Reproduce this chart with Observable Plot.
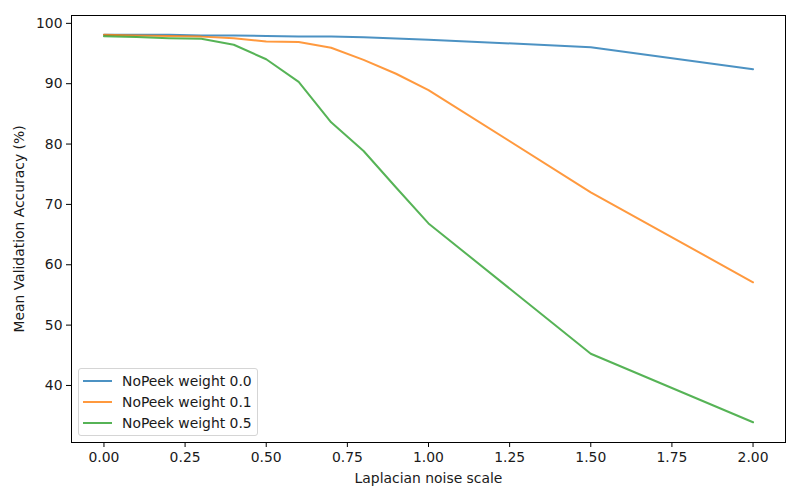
<!DOCTYPE html>
<html>
<head>
<meta charset="utf-8">
<script src="https://cdn.jsdelivr.net/npm/d3@7"></script>
<script src="https://cdn.jsdelivr.net/npm/@observablehq/plot@0.6"></script>
<style>
  body { margin: 0; background: #fff; }
  #wrap { position: relative; width: 800px; height: 500px; font-family: "DejaVu Sans", sans-serif; }
  #legend { position: absolute; left: 78px; top: 368px; width: 180px; height: 68px;
    border: 1px solid #d5d5d5; border-radius: 3px; background: rgba(255,255,255,0.8);
    font-size: 13.9px; color: #1a1a1a; box-sizing: border-box; padding-top: 1px; }
  .row { display: flex; align-items: center; height: 21px; }
  .sw { width: 29px; height: 2px; margin-left: 4px; margin-right: 10px; }
</style>
</head>
<body>
<div id="wrap"><div id="chart"></div><div id="legend"></div></div>
<script>
const noiseScale = [0.0, 0.1, 0.2, 0.3, 0.4, 0.5, 0.6, 0.7, 0.8, 0.9, 1.0, 1.5, 2.0];
const weight00 = [98.1, 98.1, 98.1, 98.0, 98.0, 97.9, 97.8, 97.8, 97.7, 97.5, 97.3, 96.05, 92.4];
const weight01 = [98.1, 98.0, 97.9, 97.8, 97.55, 97.0, 96.9, 95.95, 93.95, 91.65, 88.95, 72.0, 57.1];
const weight05 = [97.85, 97.75, 97.55, 97.45, 96.45, 94.05, 90.3, 83.6, 78.85, 72.8, 66.85, 45.25, 33.9];
const seriesNames = ["NoPeek weight 0.0", "NoPeek weight 0.1", "NoPeek weight 0.5"];
const seriesColors = ["#1f77b4", "#ff7f0e", "#2ca02c"];
const xTicks = [0, 0.25, 0.5, 0.75, 1.0, 1.25, 1.5, 1.75, 2.0];
const yTicks = [40, 50, 60, 70, 80, 90, 100];

const allSeries = [weight00, weight01, weight05];
const rows = [];
allSeries.forEach((vals, si) => vals.forEach((v, i) => rows.push({x: noiseScale[i], y: v, s: seriesNames[si]})));

const chart = Plot.plot({
  width: 800,
  height: 500,
  marginLeft: 71,
  marginRight: 15,
  marginTop: 15,
  marginBottom: 58,
  style: {fontFamily: "DejaVu Sans, sans-serif", fontSize: "13.9px", color: "#1a1a1a", background: "#fff"},
  x: {domain: [-0.1, 2.1]},
  y: {domain: [30.55, 101.3]},
  color: {domain: seriesNames, range: seriesColors},
  marks: [
    Plot.line(rows, {x: "x", y: "y", z: "s", stroke: "s", strokeWidth: 2, strokeOpacity: 0.8}),
    Plot.frame({stroke: "#000", strokeWidth: 1}),
    Plot.axisX({ticks: xTicks, tickFormat: d3.format(".2f"), tickSize: 5, tickPadding: 5,
      label: "Laplacian noise scale", labelAnchor: "center", labelArrow: "none", labelOffset: 40, stroke: "#000"}),
    Plot.axisY({ticks: yTicks, tickFormat: d3.format("d"), tickSize: 5, tickPadding: 4,
      label: "Mean Validation Accuracy (%)", labelAnchor: "center", labelArrow: "none", labelOffset: 57, stroke: "#000"})
  ]
});
document.getElementById("chart").appendChild(chart);

const legend = document.getElementById("legend");
seriesNames.forEach((n, i) => {
  const r = document.createElement("div");
  r.className = "row";
  const sw = document.createElement("div");
  sw.className = "sw";
  sw.style.background = seriesColors[i];
  sw.style.opacity = 0.8;
  const t = document.createElement("span");
  t.textContent = n;
  r.appendChild(sw); r.appendChild(t);
  legend.appendChild(r);
});
</script>
</body>
</html>
